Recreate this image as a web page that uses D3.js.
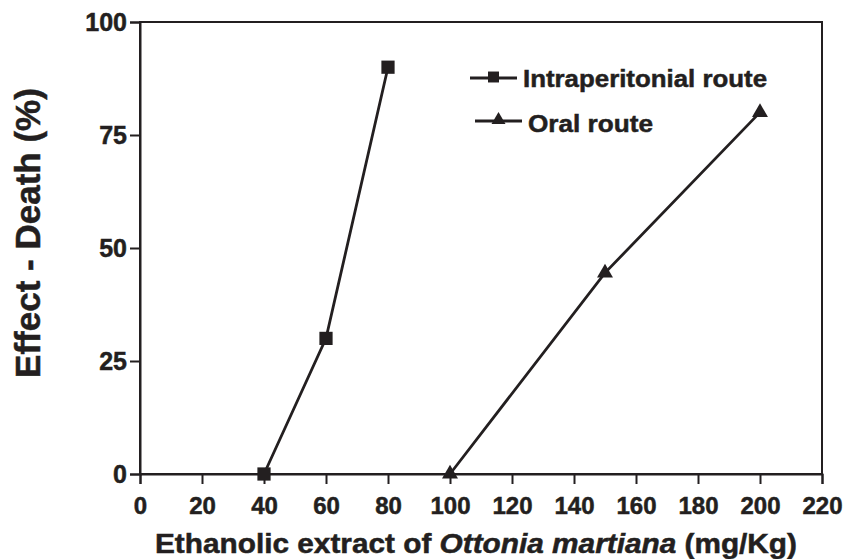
<!DOCTYPE html>
<html>
<head>
<meta charset="utf-8">
<script src="https://cdn.jsdelivr.net/npm/d3@7"></script>
<style>
  body { margin: 0; background: #fff; }
  svg text { font-family: "Liberation Sans", Arial, Helvetica, sans-serif; font-weight: bold; fill: #231f20; stroke: #231f20; stroke-width: 0.5px; }
</style>
</head>
<body>
<div id="chart"></div>
<script>
// Data
const doseIP = [40, 60, 80];
const deathIP = [0, 30, 90];
const doseOral = [100, 150, 200];
const deathOral = [0, 44.5, 80];
const xTicks = [0, 20, 40, 60, 80, 100, 120, 140, 160, 180, 200, 220];
const yTicks = [0, 25, 50, 75, 100];
const seriesNames = ['Intraperitonial route', 'Oral route'];

const ink = '#231f20';
const W = 845, H = 559;
const margin = {top: 22, right: 23, bottom: 85, left: 140};
const width = W - margin.left - margin.right;
const height = H - margin.top - margin.bottom;

const svg = d3.select('#chart').append('svg')
    .attr('width', W)
    .attr('height', H);

const g = svg.append('g')
    .attr('transform', `translate(${margin.left},${margin.top})`);

const x = d3.scaleLinear().domain([0, 220]).range([0, width]);
const y = d3.scaleLinear().domain([0, 100]).range([height, 0]);

// Frame
g.append('rect')
    .attr('width', width)
    .attr('height', height)
    .attr('fill', 'none')
    .attr('stroke', ink)
    .attr('stroke-width', 2);

// X axis
const xAxis = g.append('g')
    .attr('transform', `translate(0,${height})`)
    .call(d3.axisBottom(x).tickValues(xTicks).tickSize(10).tickPadding(13).tickFormat(d3.format('d')));
xAxis.select('.domain').attr('stroke', ink).attr('stroke-width', 2);
xAxis.selectAll('.tick line').attr('stroke', ink).attr('stroke-width', 2);
xAxis.selectAll('.tick text').style('font-size', '24px').attr('fill', ink);

// Y axis
const yAxis = g.append('g')
    .call(d3.axisLeft(y).tickValues(yTicks).tickSize(10).tickPadding(3).tickFormat(d3.format('d')));
yAxis.select('.domain').attr('stroke', ink).attr('stroke-width', 2);
yAxis.selectAll('.tick line').attr('stroke', ink).attr('stroke-width', 2);
yAxis.selectAll('.tick text').style('font-size', '25px').attr('fill', ink);

// Axis titles
const xTitle = svg.append('text')
    .attr('x', 155)
    .attr('y', 553)
    .attr('textLength', 642)
    .attr('lengthAdjust', 'spacingAndGlyphs')
    .style('font-size', '27px');
xTitle.append('tspan').text('Ethanolic extract of ');
xTitle.append('tspan').style('font-style', 'italic').text('Ottonia martiana');
xTitle.append('tspan').text(' (mg/Kg)');

svg.append('text')
    .attr('transform', `translate(40,${233}) rotate(-90)`)
    .attr('text-anchor', 'middle')
    .style('font-size', '35px')
    .text('Effect - Death (%)');

// Lines
const line = d3.line().x(d => x(d[0])).y(d => y(d[1]));
const ipData = doseIP.map((d, i) => [d, deathIP[i]]);
const oralData = doseOral.map((d, i) => [d, deathOral[i]]);

g.append('path').datum(ipData)
    .attr('d', line).attr('fill', 'none')
    .attr('stroke', ink).attr('stroke-width', 2.8);
g.append('path').datum(oralData)
    .attr('d', line).attr('fill', 'none')
    .attr('stroke', ink).attr('stroke-width', 2.8);

const square = d3.symbol().type(d3.symbolSquare).size(175);
const triangle = d3.symbol().type(d3.symbolTriangle).size(110);

g.selectAll('.sq').data(ipData).enter().append('path')
    .attr('class', 'sq')
    .attr('d', square)
    .attr('transform', d => `translate(${x(d[0])},${y(d[1])})`)
    .attr('fill', ink);

g.selectAll('.tri').data(oralData).enter().append('path')
    .attr('class', 'tri')
    .attr('d', triangle)
    .attr('transform', d => `translate(${x(d[0])},${y(d[1])})`)
    .attr('fill', ink);

// Legend
const legend = svg.append('g');
const legendRows = [
    {name: seriesNames[0], sym: d3.symbol().type(d3.symbolSquare).size(120), x0: 470, x1: 517, y: 78, tx: 523, ty: 87, len: 244},
    {name: seriesNames[1], sym: d3.symbol().type(d3.symbolTriangle).size(85), x0: 475, x1: 522, y: 121, tx: 528, ty: 132, len: 125}
];
legendRows.forEach(r => {
    legend.append('line')
        .attr('x1', r.x0).attr('x2', r.x1)
        .attr('y1', r.y).attr('y2', r.y)
        .attr('stroke', ink).attr('stroke-width', 2.8);
    legend.append('path')
        .attr('d', r.sym)
        .attr('transform', `translate(${(r.x0 + r.x1) / 2},${r.y - 1})`)
        .attr('fill', ink);
    legend.append('text')
        .attr('x', r.tx).attr('y', r.ty)
        .attr('textLength', r.len)
        .attr('lengthAdjust', 'spacingAndGlyphs')
        .style('font-size', '24px')
        .text(r.name);
});
</script>
</body>
</html>
